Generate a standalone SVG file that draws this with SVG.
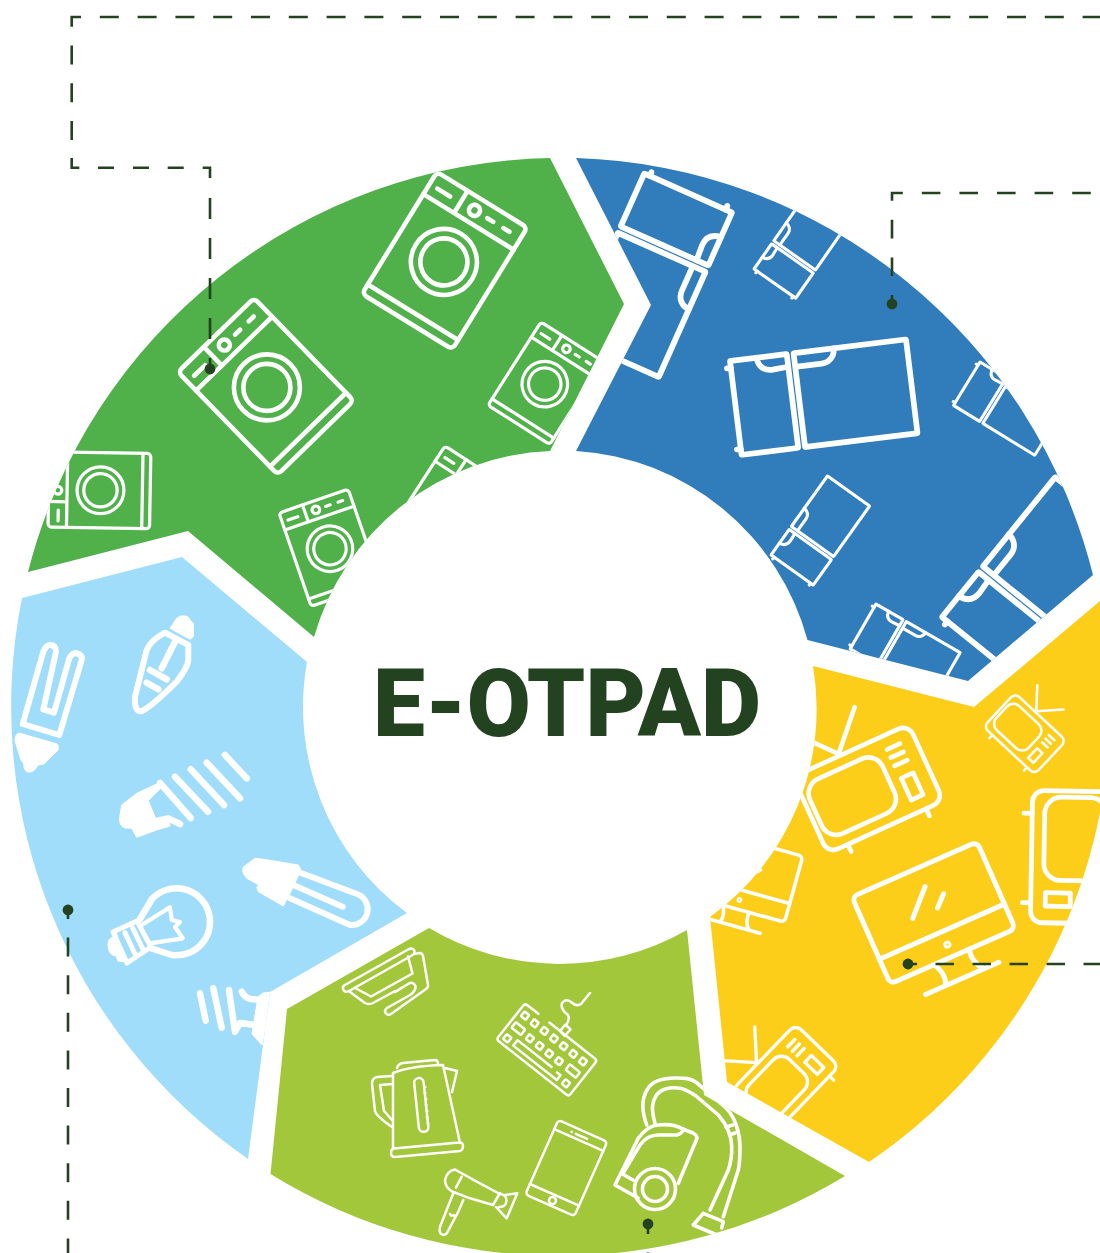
<svg xmlns="http://www.w3.org/2000/svg" width="1100" height="1253" viewBox="0 0 1100 1253">
<style>
.i{fill:none;stroke:#fff;stroke-linecap:round;stroke-linejoin:round}
.f{fill:#fff;stroke:#fff;stroke-width:1;stroke-linejoin:round}
.wm{stroke-width:4.6}.fr{stroke-width:5.8}.tv{stroke-width:4.6}.pc{stroke-width:5}
.t2{stroke-width:2.5}.t3{stroke-width:3.6}.t6{stroke-width:6.5}.t5{stroke-width:6}
.c{fill:none;stroke:#234220;stroke-width:2.6}
.d{fill:#234220}
.title{font-family:Roboto,"Liberation Sans",sans-serif;font-weight:900;font-size:94px;fill:#234220}
</style>
<defs>
<path id="w1" d="M550,158 L624,304 L550,451 A256,256 0 0 0 314,637 L188,531 L28,572 A550,550 0 0 1 550,158Z"/>
<path id="w2" d="M576,158 L651,305 L576,451 A256,256 0 0 1 807.5,640 L968,681 L1093,575 A550,550 0 0 0 576,158Z"/>
<path id="w3" d="M813,666 L974,707 L1100,601 A550,550 0 0 1 869,1162 L727,1082 L710,917 A256,256 0 0 0 813,666Z"/>
<path id="w4" d="M429,928 A256,256 0 0 0 687,930 L704,1095 L845,1176 A550,550 0 0 1 270.5,1174 L287,1009Z"/>
<path id="w5" d="M22,598 L182,557 L307,662 A256,256 0 0 0 407,913 L270,992 L248,1159 A550,550 0 0 1 22,598Z"/>
<clipPath id="c1"><use href="#w1"/></clipPath>
<clipPath id="c2"><use href="#w2"/></clipPath>
<clipPath id="c3"><use href="#w3"/></clipPath>
<clipPath id="c4"><use href="#w4"/></clipPath>
<clipPath id="c5"><use href="#w5"/></clipPath>
<g id="wm" class="i wm">
<rect width="106" height="143" rx="5"/>
<path d="M0,26H106M36,0V26M9,14H24M67,13H74M86,13H93M0,132H106"/>
<circle cx="52" cy="13" r="5.5"/>
<circle cx="53" cy="73" r="33"/><circle cx="53" cy="73" r="23.5"/>
</g>
<g id="fr" class="i fr">
<rect width="58" height="96" rx="1"/>
<rect x="65" width="115" height="96" rx="1"/>
<path d="M27,0C28,10 34,14 42,14L58,13M67,14L92,14C100,14 106,8 106,0M-4,7H0M-4,90H0"/>
</g>
<g id="tv" class="i tv">
<rect width="127" height="84" rx="11"/>
<rect x="6" y="12" width="80" height="60" rx="16"/>
<rect x="98" y="46" width="13" height="24"/>
<path d="M97,14H111M97,23H111M97,32H111M51,-2L20,-38M51,-2L85,-38M22,84V92M108,84V92"/>
</g>
<g id="pc" class="i pc">
<rect width="136.6" height="95" rx="6"/>
<path d="M0,68H136.6M71,20L47,44M85,34L74,44.5M28,119H108M48,95C52,103 54,110 50,119M86,95C84,103 86,112 92,119"/>
<circle cx="68" cy="82" r="1.5"/>
</g>
</defs>
<g id="sector-green">
<use href="#w1" fill="#50b04a"/>
<g clip-path="url(#c1)">
<use href="#wm" transform="translate(178,372) rotate(-44.2)"/>
<use href="#wm" transform="translate(437,172) rotate(31.6)"/>
<use href="#wm" transform="translate(541,322) rotate(32.5) scale(.69)"/>
<use href="#wm" transform="translate(445,446) rotate(33) scale(.7)"/>
<use href="#wm" transform="translate(279,513) rotate(-19) scale(.69)"/>
<use href="#wm" transform="translate(48,527) rotate(-89) scale(.71)"/>
</g>
</g>
<g id="sector-blue">
<use href="#w2" fill="#317dbc"/>
<g clip-path="url(#c2)">
<use href="#fr" transform="translate(730,361) rotate(-7) scale(.985)"/>
<use href="#fr" transform="translate(732,212.5) rotate(114)"/>
<use href="#fr" transform="translate(754,269) rotate(-55) scale(.53)"/>
<use href="#fr" transform="translate(771,555) rotate(-54.5) scale(.54)"/>
<use href="#fr" transform="translate(980,362) rotate(31.5) scale(.53)"/>
<use href="#fr" transform="translate(942,617) rotate(-51)"/>
<use href="#fr" transform="translate(876,604) rotate(30) scale(.54)"/>
</g>
</g>
<g id="sector-yellow">
<use href="#w3" fill="#fcce1a"/>
<g clip-path="url(#c3)">
<use href="#tv" transform="translate(793,777) rotate(-24.5)"/>
<use href="#tv" transform="translate(1015,693) rotate(43) scale(.55)"/>
<use href="#tv" transform="translate(732,1090) rotate(-46) scale(.72)"/>
<use href="#tv" transform="translate(1120,792) rotate(91) scale(1.04)"/>
<use href="#pc" transform="translate(852,897) rotate(-23.8)"/>
<use href="#pc" transform="translate(708,830) rotate(15.5) scale(.72)"/>
</g>
</g>
<g id="sector-olive">
<use href="#w4" fill="#a2c73b"/>
<g clip-path="url(#c4)">
<g id="fryer" class="i t2">
<path d="M344,985.5L409,949Q413,947.5 414.5,951Q415,954 411,956L349,991Q345,993 343.5,990Q342,987 344,985.5Z"/>
<path d="M356,988.5L371,996.5L412.5,973.5L408,956.5"/>
<path d="M414,954L420,953Q422,953 423,956L428,985Q428.5,987 426,989L391,1014Q388,1016 385.5,1013Q384,1010 387,1008L410,995Q416,991 415.5,986Q413,981 408,984L395,992"/>
<path d="M350,992L365,1003Q369,1005 373,1003L395,991M395,992L403,987"/>
</g>
<g id="kettle" class="i t2">
<path d="M397,1068Q398,1064 403,1063L435,1060Q438,1060 438,1064"/>
<path d="M393,1148L393,1073Q410,1066 443,1065L460,1143"/>
<path d="M394,1148.5L459,1142.5Q463,1142 463,1146Q463,1150 460,1151L395,1157Q391,1157 391,1153Q391,1149 394,1148.5Z"/>
<rect x="416.5" y="1078" width="9.5" height="54" rx="4.7" transform="rotate(-6 421 1105)"/>
<path d="M424,1087h2M424,1093h2M425,1099h2M425,1105h2M426,1111h2M426,1117h2M427,1123h2" stroke-width="1.4"/>
<path d="M445,1068L457,1071L452,1092"/>
<path d="M392,1076L377,1077Q372,1078 372,1084L375,1111Q376,1116 392,1127M392,1084L380,1085L384,1111L392,1120"/>
</g>
<g id="keyboard" class="i t2">
<g transform="translate(525,1003.3) rotate(38.3)">
<path d="M17,0H3Q0,0 0,3V43Q0,46 3,46H89Q92,46 92,43V3Q92,0 89,0H31"/>
<path d="M60.3,33.5H17V40.5H72.5V34.5H68"/>
<g id="kk">
<rect x="4.7" y="6.7" width="6" height="6" rx="1"/><rect x="17" y="6.7" width="6" height="6" rx="1"/><rect x="29.3" y="6.7" width="6" height="6" rx="1"/><rect x="41.6" y="6.7" width="6" height="6" rx="1"/><rect x="53.9" y="6.7" width="6" height="6" rx="1"/><rect x="66.2" y="6.7" width="6" height="6" rx="1"/><rect x="78.5" y="6.7" width="6" height="6" rx="1"/>
<rect x="4.5" y="20.5" width="12" height="7" rx="1"/><rect x="22.6" y="21.4" width="6" height="6" rx="1"/><rect x="34.9" y="21.4" width="6" height="6" rx="1"/><rect x="47.2" y="21.4" width="6" height="6" rx="1"/><rect x="59.5" y="21.4" width="6" height="6" rx="1"/><rect x="73" y="20" width="13" height="7" rx="1"/>
<rect x="4.8" y="35.5" width="6" height="6" rx="1"/><rect x="78.8" y="34.4" width="6" height="6" rx="1"/>
</g>
</g>
<path d="M560,1031L565.5,1024.5L570.5,1029.5L564.5,1036ZM566.7,1024Q570,1019 568,1015Q560,1009 562,1003Q566,998 571,1002Q576,1007 581,1004L590,993"/>
</g>
<g id="phone" class="i t2">
<g transform="translate(558.3,1120) rotate(23.9)">
<rect width="53.6" height="81.4" rx="3.5"/>
<path d="M0,10H53.6M0,70H53.6M21.6,5.5H34M17,5.5H17.2"/>
<circle cx="27.3" cy="76" r="3.5"/>
</g>
</g>
<g id="dryer" class="i t2">
<path d="M455,1169.5Q447,1171 445,1180Q445,1187 452,1191.5L470,1198.3L493,1205M455,1169.5L476.7,1181.7L498,1193"/>
<path d="M500,1193L493,1205M501,1194Q508,1196 506,1203Q505,1207 499,1207M505,1195L517.3,1193.3L506.7,1218.3L496,1207"/>
<path d="M461.7,1176.7L456,1187.7"/>
<path d="M453.3,1193.3L440,1226.7Q439,1232 441,1234Q445,1236 447,1233L458.3,1211.7L463.3,1200"/>
<path d="M450,1214L451.5,1216M453.5,1215L455,1217"/>
</g>
<g id="vacuum" class="i t3">
<circle cx="655" cy="1189" r="20.5"/><circle cx="655" cy="1189" r="12.5"/>
<path d="M638,1198L615,1185L638.3,1138.3C644,1130 652,1125 658.3,1125C668,1124 678,1126 683.3,1129.3L693,1133Q698,1136 696.7,1139L678.3,1183.3"/>
<path d="M622.5,1174L625,1170L640,1145C645,1138 652,1135 658.3,1135L676.7,1135Q682,1134 683.3,1129.3M622.5,1174L633,1180"/>
<path d="M646.7,1125C642,1112 641,1100 647,1090C652,1080 665,1078 676,1078C684,1078 691,1078 697,1083L726,1108C735,1117 740,1133 740,1146.7C740,1155 740,1162 738.3,1170L723.3,1216.7"/>
<path d="M655,1123.3C652,1112 651,1104 656,1096C660,1089 670,1087 678,1088C684,1088 690,1092 696,1096L718.3,1115C727,1125 731.7,1137 731.7,1146.7C732,1155 731,1162 728.3,1170L710,1210"/>
<path d="M726,1127L733,1125M729.5,1135L735,1133"/>
<path d="M703.3,1213.3L723.3,1221.7L721.7,1228M703.3,1213.3L693.3,1225L721.7,1237"/>
</g>
</g>
</g>
<g id="sector-lightblue">
<use href="#w5" fill="#a0ddfa"/>
<g clip-path="url(#c5)">
<g id="lamp-u" class="i">
<path d="M22.7,724L43.3,651.7Q46,645 50,645Q56,645 56,651.7L43.3,709.3L54,712.7L69.3,658.3Q72,653 76,653Q83,655 81.7,660L59.3,735Z" stroke-width="6"/>
</g>
<path id="lamp-u-base" class="f" d="M19,733L57,744Q59,746 58,750L44,764L38,765Q34,773 28,772Q23,770 24,764L21,760L15,741Q15,734 19,733Z"/>
<g id="lamp-c9">
<path class="i t5" d="M165,632.7Q151,640 146.7,650L135,696.7Q134,712.7 142,711Q150,708 176.7,681.7Q188,667 188.3,660L188.3,645Z"/>
<path class="f" d="M170,628.3L176.7,618.3Q180,615 185,616Q189,616 190,620L193.3,623.3L193.3,636.7L190,639.3Z"/>
<path class="i t6" d="M175,641.7L161.7,668.3M150,670L166.7,679.3M146.7,682.7L158.3,689.3"/>
</g>
<g id="lamp-cfl">
<path class="i t6" d="M225,755L246.7,778.3M206.7,762.7L240,798.3M190.7,769.3L224,805M175,776.7L208,811.7M160,783L190.7,818M156.7,821L168.3,818.3L180,824"/>
<path class="f" d="M121.7,805L136.7,793.3L158.3,783.3L162,787L148.3,800.7L156.7,821L168.3,818.3L170,826L156.7,830L136.7,837.3L131.7,828.3L125,828Q118,826 120,815Z"/>
</g>
<g id="lamp-bulb">
<path class="i" stroke-width="6.5" d="M140,919L152,899A33.5,33.5 0 1 1 172,955L150,948"/>
<path class="i" stroke-width="5" d="M113,932L137,921L151,947L127,963ZM125,932.7L135,954M132.7,928L143.3,950"/>
<path class="f" d="M116,932L126,962L118,961L116,956Q108,955 108,945Q108,937 114,937Z"/>
<path class="i" stroke-width="4.2" d="M141.7,925L170,907.3L171.7,920L180,922L175,927L182.7,938.3L150,943.3"/>
</g>
<g id="lamp-tube">
<path class="i t5" d="M301.7,873.3L357,894A16,16 0 0 1 350,925L290,898.3M293.3,885L342.7,906.7"/>
<path class="f" d="M268.3,860L298.3,865L301,870L290,893.3L283.3,906L258.3,891.7L256.7,887L259,885L246.7,878.3Q241,872 243.3,867L248.3,863.3L255,858.3Z"/>
</g>
<g id="lamp-bottom">
<path class="i t6" d="M200,993.3L205.7,1020.7M213.3,988.3L221.7,1027.7M229,990L235,1031.7L240,1023L255,1025M241.7,991.7Q245,998 251,999L262,1000"/>
<path class="f" d="M258,997L263,993L272,992L262,1045L252,1034Z"/>
</g>
</g>
</g>
<g id="connectors">
<path class="c" stroke-dasharray="19 18.8" stroke-dashoffset="1.6" d="M1100,17H71.7V158"/>
<path class="c" d="M71.7,158V167.7H79.3M98,167.7H114M133,167.7H149M167.7,167.7H183.7M202.7,167.7H210V178M210,198V219M210,238V259M210,278V299M210,318V339M210,358V369"/>
<path class="c" stroke-dasharray="18.6 19" stroke-dashoffset="9.6" d="M892,304V193H1100"/>
<path class="c" stroke-dasharray="18.5 18.5" stroke-dashoffset="9.5" d="M908,964H1100"/>
<path class="c" stroke-dasharray="19 18.6" stroke-dashoffset="10" d="M68,910V1253"/>
<path class="c" stroke-dasharray="19 18.6" stroke-dashoffset="9" d="M648,1224V1253"/>
<circle class="d" cx="210" cy="369" r="5.4"/>
<circle class="d" cx="892" cy="304" r="5.4"/>
<circle class="d" cx="908" cy="964" r="5.4"/>
<circle class="d" cx="68" cy="910" r="5.4"/>
<circle class="d" cx="648" cy="1224" r="5.4"/>
</g>
<g id="center">
<text class="title" x="373" y="736" textLength="388" lengthAdjust="spacingAndGlyphs">E-OTPAD</text>
</g>
</svg>
